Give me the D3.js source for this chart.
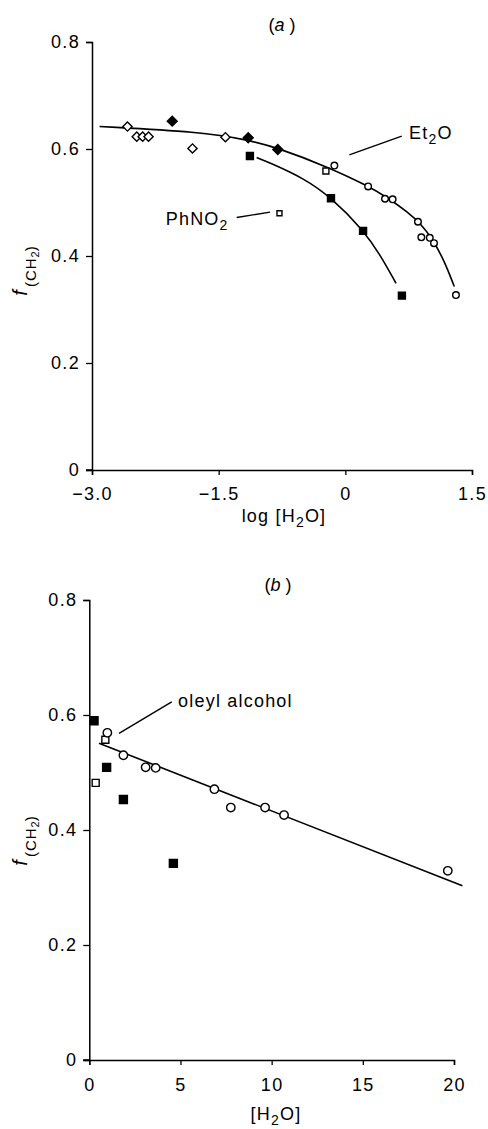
<!DOCTYPE html>
<html>
<head>
<meta charset="utf-8">
<script src="https://cdn.jsdelivr.net/npm/d3@7"></script>
<style>
  body { margin: 0; background: #fff; }
  text { font-family: "Liberation Sans", Arial, Helvetica, sans-serif; fill: #000; }
</style>
</head>
<body>
<div id="chart"></div>
<script>
// ---- panel (a): f(CH2) vs log[H2O] ----
const aOpenDiamonds = [[-2.58, 0.642], [-2.47, 0.623], [-2.40, 0.623], [-2.33, 0.623], [-1.81, 0.601], [-1.42, 0.622]];
const aFilledDiamonds = [[-2.05, 0.652], [-1.15, 0.621], [-0.80, 0.599]];
const aFilledSquares = [[-1.13, 0.587], [-0.17, 0.508], [0.21, 0.447], [0.67, 0.326]];
const aOpenSquares = [[-0.23, 0.559]];
const aPhNO2Square = [[-0.78, 0.480]];
const aOpenCircles = [[-0.13, 0.569], [0.27, 0.530], [0.47, 0.507], [0.56, 0.506], [0.86, 0.464], [0.90, 0.435], [1.00, 0.434], [1.05, 0.424], [1.31, 0.327]];
// fitted curves
const aEt2OCurve = [[-2.91, 0.642], [-1.72, 0.632], [-1.15, 0.617], [-0.80, 0.602], [-0.23, 0.568], [0.27, 0.531], [0.49, 0.510], [0.74, 0.482], [0.90, 0.459], [1.03, 0.432], [1.17, 0.392], [1.29, 0.343]];
const aPhNO2Curve = [[-1.05, 0.584], [-0.89, 0.574], [-0.50, 0.546], [-0.17, 0.510], [0.21, 0.449], [0.41, 0.403], [0.60, 0.349]];
const aXTicks = [-3, -1.5, 0, 1.5];
const aXTickLabels = ['\u22123.0', '\u22121.5', '0', '1.5'];

// ---- panel (b): f(CH2) vs [H2O] ----
const bOpenCircles = [[0.99, 0.569], [1.87, 0.530], [3.09, 0.509], [3.64, 0.508], [6.86, 0.471], [7.76, 0.439], [9.64, 0.439], [10.68, 0.426], [19.66, 0.329]];
const bOpenSquares = [[0.88, 0.557], [0.35, 0.482]];
const bFilledSquares = [[0.26, 0.590], [0.95, 0.509], [1.87, 0.453], [4.61, 0.342]];
const bOleylLine = [[0.53, 0.551], [20.46, 0.303]];
const bXTicks = [0, 5, 10, 15, 20];
const bXTickLabels = ['0', '5', '10', '15', '20'];

const yTicks = [0, 0.2, 0.4, 0.6, 0.8];
const yTickLabels = ['0', '0.2', '0.4', '0.6', '0.8'];

const svg = d3.select('#chart').append('svg').attr('width', 488).attr('height', 1129);

function drawAxes(x, y, xTicks, xLabels, xPad) {
    const gx = svg.append('g')
        .attr('transform', 'translate(0,' + y(0) + ')')
        .call(d3.axisBottom(x).tickValues(xTicks).tickFormat((d, i) => xLabels[i]).tickSizeOuter(0).tickSize(5).tickPadding(xPad));
    const gy = svg.append('g')
        .attr('transform', 'translate(' + x.range()[0] + ',0)')
        .call(d3.axisLeft(y).tickValues(yTicks).tickFormat((d, i) => yTickLabels[i]).tickSizeOuter(0).tickSize(6).tickPadding(6));
    [gx, gy].forEach(g => {
        g.select('.domain').attr('stroke', '#000').attr('stroke-width', 1.5);
        g.selectAll('.tick line').attr('stroke', '#000').attr('stroke-width', 1.3);
        g.selectAll('.tick text').attr('font-size', 18).attr('letter-spacing', 1.3).attr('fill', '#000')
            .style('font-family', '"Liberation Sans", Arial, sans-serif');
    });
    // extend the x axis line to the left to meet the y=0 tick
    svg.append('line')
        .attr('x1', x.range()[0] - 6).attr('x2', x.range()[0])
        .attr('y1', y(0)).attr('y2', y(0))
        .attr('stroke', '#000').attr('stroke-width', 1.5);
}

function drawCurve(data, x, y, curve) {
    svg.append('path')
        .datum(data)
        .attr('fill', 'none')
        .attr('stroke', '#000')
        .attr('stroke-width', 1.6)
        .attr('d', d3.line().x(d => x(d[0])).y(d => y(d[1])).curve(curve));
}

function drawMarks(data, x, y, kind, size, filled) {
    const g = svg.append('g');
    const sel = g.selectAll('path').data(data).enter().append('path')
        .attr('fill', filled ? '#000' : '#fff')
        .attr('stroke', '#000')
        .attr('stroke-width', 1.4);
    if (kind === 'circle') {
        sel.attr('d', d3.symbol(d3.symbolCircle, Math.PI * size * size))
            .attr('transform', d => 'translate(' + x(d[0]) + ',' + y(d[1]) + ')');
    } else if (kind === 'square') {
        sel.attr('d', d3.symbol(d3.symbolSquare, size * size))
            .attr('transform', d => 'translate(' + x(d[0]) + ',' + y(d[1]) + ')');
    } else {
        sel.attr('d', d3.symbol(d3.symbolSquare, size * size))
            .attr('transform', d => 'translate(' + x(d[0]) + ',' + y(d[1]) + ') rotate(45)');
    }
}

function yLabel(cx, cy) {
    const t = svg.append('text')
        .attr('transform', 'translate(' + cx + ',' + cy + ') rotate(-90)')
        .attr('text-anchor', 'middle')
        .attr('font-size', 20);
    t.append('tspan').attr('font-style', 'italic').text('f');
    t.append('tspan').attr('font-size', 15).attr('dy', 9).attr('dx', 3).attr('letter-spacing', 1).text('(CH');
    t.append('tspan').attr('font-size', 11).attr('dy', 3).text('2');
    t.append('tspan').attr('font-size', 15).attr('dy', -3).text(')');
}

function title(cx, by, letter) {
    const t = svg.append('text').attr('x', cx).attr('y', by).attr('text-anchor', 'middle').attr('font-size', 18);
    t.append('tspan').text('(');
    t.append('tspan').attr('font-style', 'italic').text(letter);
    t.append('tspan').text(' )');
}

function subText(x0, y0, parts, anchor) {
    // parts: [text, isSub]
    const t = svg.append('text').attr('x', x0).attr('y', y0).attr('font-size', 18)
        .attr('letter-spacing', 1.2).attr('text-anchor', anchor || 'start');
    let down = false;
    parts.forEach(p => {
        const s = t.append('tspan').text(p[0]);
        if (p[1] && !down) { s.attr('font-size', 14).attr('dy', 5); down = true; }
        else if (!p[1] && down) { s.attr('dy', -5); down = false; }
    });
    return t;
}

function leader(x, y, p1, p2) {
    svg.append('line')
        .attr('x1', x(p1[0])).attr('y1', y(p1[1]))
        .attr('x2', x(p2[0])).attr('y2', y(p2[1]))
        .attr('stroke', '#000').attr('stroke-width', 1.4);
}

// ---------- panel (a) ----------
const xa = d3.scaleLinear().domain([-3, 1.5]).range([92, 472]);
const ya = d3.scaleLinear().domain([0, 0.8]).range([470, 42]);
drawAxes(xa, ya, aXTicks, aXTickLabels, 12);
drawCurve(aEt2OCurve, xa, ya, d3.curveBasis);
drawCurve(aPhNO2Curve, xa, ya, d3.curveBasis);
drawMarks(aOpenDiamonds, xa, ya, 'diamond', 6.5, false);
drawMarks(aFilledDiamonds, xa, ya, 'diamond', 7, true);
drawMarks(aFilledSquares, xa, ya, 'square', 7, true);
drawMarks(aOpenSquares, xa, ya, 'square', 6, false);
drawMarks(aPhNO2Square, xa, ya, 'square', 5, false);
drawMarks(aOpenCircles, xa, ya, 'circle', 3.3, false);
title(282, 31, 'a');
yLabel(27, 271);
subText(284, 522, [['log [H'], ['2', true], ['O]']], 'middle');
subText(xa(0.754), ya(0.618), [['Et'], ['2', true], ['O']]);
leader(xa, ya, [0.668, 0.624], [0.047, 0.589]);
subText(xa(-2.127), ya(0.458), [['PhNO'], ['2', true]]);
leader(xa, ya, [-1.287, 0.472], [-0.892, 0.482]);

// ---------- panel (b) ----------
const xb = d3.scaleLinear().domain([0, 20]).range([89.3, 454]);
const yb = d3.scaleLinear().domain([0, 0.8]).range([1060, 600]);
drawAxes(xb, yb, bXTicks, bXTickLabels, 13);
drawCurve(bOleylLine, xb, yb, d3.curveLinear);
drawMarks(bFilledSquares, xb, yb, 'square', 8, true);
drawMarks(bOpenSquares, xb, yb, 'square', 7, false);
drawMarks(bOpenCircles, xb, yb, 'circle', 4.2, false);
title(278, 591, 'b');
yLabel(27, 841);
subText(276, 1120, [['[H'], ['2', true], ['O]']], 'middle');
svg.append('text').attr('x', xb(4.87)).attr('y', yb(0.614)).attr('font-size', 18)
    .attr('letter-spacing', 1.2).text('oleyl alcohol');
leader(xb, yb, [4.52, 0.623], [1.63, 0.568]);
</script>
</body>
</html>
